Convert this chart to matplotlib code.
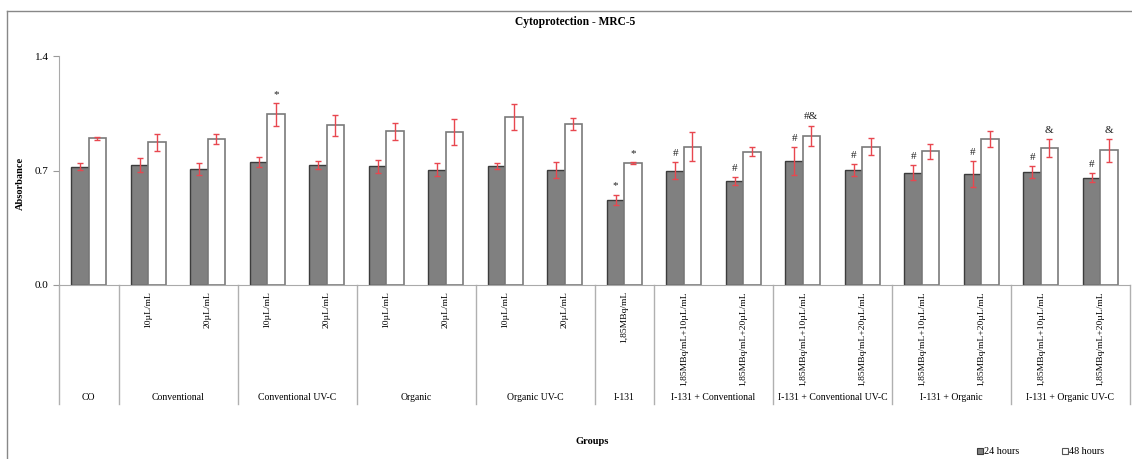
import numpy as np
import matplotlib.pyplot as plt
from matplotlib.lines import Line2D
from matplotlib.patches import Rectangle

plt.rcParams['font.family'] = ['Liberation Serif', 'DejaVu Serif']

# categories (sub-level label, group)
sub_labels = ["", "10µL/mL", "20µL/mL", "10µL/mL", "20µL/mL", "10µL/mL", "20µL/mL",
              "10µL/mL", "20µL/mL", "1,85MBq/mL",
              "1,85MBq/mL+10µL/mL", "1,85MBq/mL+20µL/mL",
              "1,85MBq/mL+10µL/mL", "1,85MBq/mL+20µL/mL",
              "1,85MBq/mL+10µL/mL", "1,85MBq/mL+20µL/mL",
              "1,85MBq/mL+10µL/mL", "1,85MBq/mL+20µL/mL"]
groups = ["CO", "Conventional", "Conventional UV-C", "Organic", "Organic UV-C", "I-131",
          "I-131 + Conventional", "I-131 + Conventional UV-C", "I-131 + Organic",
          "I-131 + Organic UV-C"]
group_sizes = [1, 2, 2, 2, 2, 1, 2, 2, 2, 2]

h24 = [0.723, 0.733, 0.709, 0.750, 0.733, 0.727, 0.705, 0.725, 0.705, 0.522,
       0.699, 0.636, 0.758, 0.703, 0.687, 0.678, 0.693, 0.656]
h24_err = [0.020, 0.043, 0.038, 0.030, 0.025, 0.040, 0.040, 0.018, 0.048, 0.030,
           0.052, 0.026, 0.085, 0.035, 0.045, 0.081, 0.036, 0.029]
h48 = [0.897, 0.872, 0.892, 1.043, 0.976, 0.941, 0.935, 1.025, 0.986, 0.744,
       0.846, 0.815, 0.911, 0.844, 0.819, 0.892, 0.835, 0.823]
h48_err = [0.010, 0.053, 0.030, 0.070, 0.065, 0.052, 0.080, 0.080, 0.038, 0.005,
           0.087, 0.027, 0.064, 0.052, 0.046, 0.050, 0.055, 0.070]

marks24 = ["", "", "", "", "", "", "", "", "", "*",
           "#", "#", "#", "#", "#", "#", "#", "#"]
marks48 = ["", "", "", "*", "", "", "", "", "", "*",
           "", "", "#&", "", "", "", "&", "&"]

x = np.arange(len(h24))
w = 0.29

fig = plt.figure(figsize=(11.32, 4.59), dpi=100)
ax = fig.add_axes([59 / 1132, 1 - 285 / 459, 1071 / 1132, 229 / 459])

err_kw = dict(ecolor="#e8474f", elinewidth=1.0, capsize=2.2, capthick=1.0)
ax.bar(x - w / 2, h24, w, yerr=h24_err, color="#808080", edgecolor="#3c3c3c",
       linewidth=1.0, error_kw=err_kw)
ax.bar(x + w / 2, h48, w, yerr=h48_err, color="white", edgecolor="#7a7a7a",
       linewidth=1.2, error_kw=err_kw)

for i in x:
    if marks24[i]:
        ax.annotate(marks24[i], (i - w / 2, h24[i] + h24_err[i]), xytext=(0, 3),
                    textcoords="offset points", ha="center", va="bottom",
                    fontsize=8, color="#222222")
    if marks48[i]:
        ax.annotate(marks48[i], (i + w / 2, h48[i] + h48_err[i]), xytext=(0, 3),
                    textcoords="offset points", ha="center", va="bottom",
                    fontsize=8, color="#222222")

ax.set_xlim(-0.5, len(h24) - 0.5)
ax.set_ylim(0, 1.4)
ax.set_yticks([0.0, 0.7, 1.4])
ax.set_yticklabels(["0.0", "0.7", "1.4"], fontsize=8)
ax.set_xticks([])
ax.tick_params(axis="y", length=4, color="#999999", width=0.8)

for s in ["top", "right"]:
    ax.spines[s].set_visible(False)
ax.spines["left"].set_color("#aaaaaa")
ax.spines["bottom"].set_color("#aaaaaa")

# multi-level category axis
tr = ax.get_xaxis_transform()
for i, lab in enumerate(sub_labels):
    if lab:
        ax.text(i, -0.026, lab, transform=tr, rotation=90, ha="center", va="top",
                fontsize=6.8)

edges = np.concatenate([[0], np.cumsum(group_sizes)]) - 0.5
for e in edges:
    ax.add_line(Line2D([e, e], [0, -0.52], transform=tr, color="#b0b0b0",
                       linewidth=1.0, clip_on=False))
for g, a, b in zip(groups, edges[:-1], edges[1:]):
    ax.text((a + b) / 2, -0.493, g, transform=tr, ha="center", va="center",
            fontsize=7)

fig.text(0.508, 1 - 22 / 459, "Cytoprotection - MRC-5", ha="center", va="center",
         fontsize=8.3, fontweight="bold")
fig.text(592 / 1132, 1 - 441 / 459, "Groups", ha="center", va="center",
         fontsize=7.5, fontweight="bold")
fig.text(20 / 1132, 1 - 183 / 459, "Absorbance", ha="center", va="center",
         rotation=90, fontsize=7.5, fontweight="bold")

# legend
fig.patches.append(Rectangle((977 / 1132, 1 - 454 / 459), 6 / 1132, 6 / 459,
                             transform=fig.transFigure, facecolor="#808080",
                             edgecolor="#3c3c3c", linewidth=0.8))
fig.text(984 / 1132, 1 - 451 / 459, "24 hours", ha="left", va="center", fontsize=7.3)
fig.patches.append(Rectangle((1062 / 1132, 1 - 454 / 459), 6 / 1132, 6 / 459,
                             transform=fig.transFigure, facecolor="white",
                             edgecolor="#555555", linewidth=0.8))
fig.text(1069 / 1132, 1 - 451 / 459, "48 hours", ha="left", va="center", fontsize=7.3)

# outer chart frame
fig.add_artist(Line2D([7 / 1132, 1], [1 - 10.5 / 459, 1 - 10.5 / 459],
                      transform=fig.transFigure, color="#888888", linewidth=1.0))
fig.add_artist(Line2D([7 / 1132, 7 / 1132], [0, 1 - 10.5 / 459],
                      transform=fig.transFigure, color="#888888", linewidth=1.0))

fig.savefig("out.png", dpi=100)
